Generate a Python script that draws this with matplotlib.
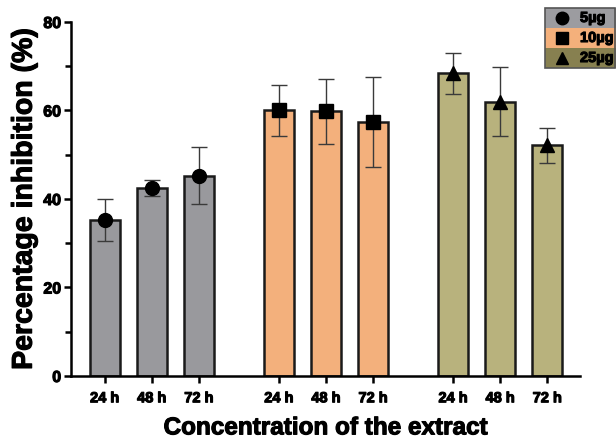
import numpy as np
import matplotlib
matplotlib.use("Agg")
import matplotlib.pyplot as plt
import matplotlib.patheffects as pe
from matplotlib.patches import Rectangle
from matplotlib.lines import Line2D
from matplotlib.ticker import MultipleLocator

plt.rcParams['font.family'] = ['Liberation Sans', 'DejaVu Sans']
plt.rcParams['font.weight'] = 'bold'

times = ['24 h', '48 h', '72 h']
doses = ['5µg', '10µg', '25µg']
mean_5 = [35.3, 42.5, 45.3]
sd_5 = [4.7, 1.8, 6.5]
mean_10 = [60.0, 59.8, 57.4]
sd_10 = [5.8, 7.4, 10.1]
mean_25 = [68.4, 62.0, 52.1]
sd_25 = [4.7, 7.8, 4.0]

means = [mean_5, mean_10, mean_25]
sds = [sd_5, sd_10, sd_25]
bar_colors = ['#99999d', '#f3b07c', '#b8b27d']
legend_colors = ['#9c9ca0', '#f4b07b', '#878050']
markers = ['o', 's', '^']

# thicker strokes so the bold text looks heavy like the original
heavy = [pe.withStroke(linewidth=0.8, foreground='black')]

fig = plt.figure(figsize=(6.16, 4.4), dpi=100)
ax = fig.add_axes([0.115, 0.1455, 0.827, 0.8045])

group_gap = 3.7
all_pos = []
all_labels = []
for g in range(3):
    pos = np.arange(3) + g * group_gap
    ax.bar(pos, means[g], width=0.63, color=bar_colors[g], edgecolor='#1a1a1a',
           linewidth=1.8, zorder=2)
    ax.errorbar(pos, means[g], yerr=sds[g], fmt='none', ecolor='#3a3a3a',
                elinewidth=1.0, capsize=6, capthick=1.0, zorder=3)
    ax.plot(pos, means[g], linestyle='none', marker=markers[g], color='black',
            markersize=9.5 if g != 0 else 10, zorder=4)
    all_pos.extend(pos)
    all_labels.extend(times)

ax.set_xlim(-0.72, 2 * group_gap + 2 + 0.7)
ax.set_ylim(0, 80)
ax.set_xticks(all_pos)
ax.set_xticklabels(all_labels, fontsize=10.5, fontweight='bold')
ax.yaxis.set_major_locator(MultipleLocator(20))
ax.yaxis.set_minor_locator(MultipleLocator(10))
ax.tick_params(axis='y', which='major', labelsize=11.5, length=5, width=1.8, pad=2)
ax.tick_params(axis='y', which='minor', length=4, width=1.8)
ax.tick_params(axis='x', length=5, width=1.8, pad=6)
for lab in ax.get_yticklabels() + ax.get_xticklabels():
    lab.set_fontweight('bold')
    lab.set_path_effects(heavy)

for s in ['top', 'right']:
    ax.spines[s].set_visible(False)
for s in ['left', 'bottom']:
    ax.spines[s].set_linewidth(1.8)

ax.set_ylabel('Percentage inhibition (%)', fontsize=20.5, fontweight='bold', labelpad=4,
              path_effects=heavy)
ax.set_xlabel('Concentration of the extract', fontsize=17.5, fontweight='bold', labelpad=8,
              path_effects=heavy)

# legend drawn as coloured rows, top right
lx0, lx1 = 545 / 616, 1.0
row_h = 20 / 440
top = 1 - 8 / 440
for i in range(3):
    y0 = top - (i + 1) * row_h
    fig.patches.append(Rectangle((lx0, y0), lx1 - lx0, row_h, transform=fig.transFigure,
                                 facecolor=legend_colors[i], edgecolor='none'))
    fig.add_artist(Line2D([562 / 616], [y0 + row_h / 2], marker=markers[i], color='black',
                          markersize=9, linestyle='none', transform=fig.transFigure))
    fig.text(580 / 616, y0 + row_h / 2, doses[i], fontsize=10.5, fontweight='bold',
             va='center', ha='left', path_effects=heavy)
fig.patches.append(Rectangle((lx0, top - 3 * row_h), lx1 - lx0 - 0.002, 3 * row_h,
                             transform=fig.transFigure, facecolor='none',
                             edgecolor='#555555', linewidth=1.2))

fig.savefig('out.png', dpi=100)
